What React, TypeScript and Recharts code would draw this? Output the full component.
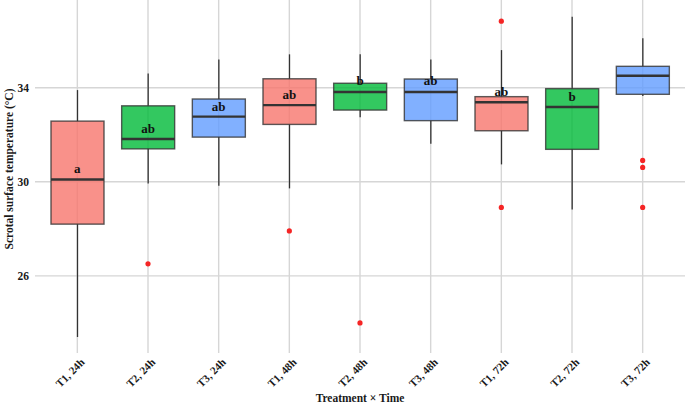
import React from 'react';
import { ComposedChart, Bar, Scatter, XAxis, YAxis, CartesianGrid, Label } from 'recharts';

// Treatment × time groups, in plotting order
const categories = ['T1, 24h', 'T2, 24h', 'T3, 24h', 'T1, 48h', 'T2, 48h', 'T3, 48h', 'T1, 72h', 'T2, 72h', 'T3, 72h'];

// five-number summaries (°C)
const whiskerLow = [23.4, 29.93, 29.83, 29.72, 32.74, 31.62, 30.74, 28.82, 33.65];
const q1 = [28.2, 31.4, 31.9, 32.44, 33.05, 32.6, 32.17, 31.38, 33.72];
const median = [30.1, 31.82, 32.77, 33.26, 33.82, 33.82, 33.38, 33.18, 34.51];
const q3 = [32.58, 33.23, 33.52, 34.38, 34.19, 34.37, 33.62, 33.96, 34.91];
const whiskerHigh = [33.9, 34.61, 35.2, 35.42, 35.42, 35.2, 35.6, 37.02, 36.1];

// points beyond the whiskers
const outliers = [[], [26.51], [], [27.91], [24.0], [], [36.83, 28.91], [], [30.91, 30.61, 28.91]];

// significance letters and the height they sit at
const letters = ['a', 'ab', 'ab', 'ab', 'b', 'ab', 'ab', 'b', ''];
const letterY = [30.58, 32.28, 33.22, 33.73, 34.3, 34.29, 33.83, 33.63, 0];

const yTicks = [26, 30, 34];

const FILL: Record<string, string> = { T1: '#F8766D', T2: '#00BA38', T3: '#619CFF' };
const FONT = '"Liberation Serif", "Times New Roman", serif';

const rows = categories.map((cat, i) => ({
  cat,
  group: cat.split(',')[0],
  lo: whiskerLow[i],
  q1: q1[i],
  med: median[i],
  q3: q3[i],
  hi: whiskerHigh[i],
  range: [whiskerLow[i], whiskerHigh[i]],
}));

const outlierRows = categories.flatMap((cat, i) => outliers[i].map(v => ({ cat, v })));

const letterRows = categories
  .map((cat, i) => ({ cat, v: letterY[i], text: letters[i] }))
  .filter(r => r.text !== '');

// draws a full box-and-whisker glyph inside the whisker-range bar
function BoxShape(props: any) {
  const { x, y, width, height, payload } = props;
  const top = Math.min(y, y + height);
  const h = Math.abs(height);
  const k = h / (payload.hi - payload.lo);
  const py = (v: number) => top + (payload.hi - v) * k;
  const cx = x + width / 2;
  return (
    <g>
      <line x1={cx} x2={cx} y1={py(payload.hi)} y2={py(payload.q3)} stroke="#333" strokeWidth={1.3} />
      <line x1={cx} x2={cx} y1={py(payload.q1)} y2={py(payload.lo)} stroke="#333" strokeWidth={1.3} />
      <rect
        x={x}
        y={py(payload.q3)}
        width={width}
        height={py(payload.q1) - py(payload.q3)}
        fill={FILL[payload.group]}
        fillOpacity={0.8}
        stroke="#333"
        strokeOpacity={0.8}
        strokeWidth={1.4}
      />
      <line x1={x} x2={x + width} y1={py(payload.med)} y2={py(payload.med)} stroke="#333" strokeWidth={2.4} />
    </g>
  );
}

function XTick({ x, y, payload }: any) {
  const tx = x + 8;
  const ty = y + 2;
  return (
    <text
      x={tx}
      y={ty}
      transform={`rotate(-45 ${tx} ${ty})`}
      textAnchor="end"
      fontFamily={FONT}
      fontWeight="bold"
      fontSize={11}
      fill="#1a1a1a"
    >
      {payload.value}
    </text>
  );
}

export default function App() {
  return (
    <div style={{ position: 'absolute', left: 0, top: 0, background: '#fff' }}>
      <ComposedChart width={685} height={405} data={rows} margin={{ top: 0, right: 0, bottom: 0, left: 0 }}>
        <CartesianGrid stroke="#d6d6d6" strokeWidth={1.4} syncWithTicks />
        <XAxis
          dataKey="cat"
          type="category"
          allowDuplicatedCategory={false}
          interval={0}
          height={52}
          padding={{ left: 7, right: 7 }}
          axisLine={false}
          tickLine={false}
          tick={<XTick />}
        >
          <Label
            content={() => (
              <text x={360} y={402} textAnchor="middle" fontFamily={FONT} fontWeight="bold" fontSize={11.5} fill="#1a1a1a">
                Treatment × Time
              </text>
            )}
          />
        </XAxis>
        <YAxis
          type="number"
          domain={[22.72, 37.73]}
          ticks={yTicks}
          width={35}
          axisLine={false}
          tickLine={false}
          tickSize={4}
          tickMargin={2}
          tick={{ fontFamily: FONT, fontWeight: 'bold', fontSize: 11.5, fill: '#1a1a1a' }}
        >
          <Label
            content={() => (
              <text
                transform="translate(9,169) rotate(-90)"
                textAnchor="middle"
                dominantBaseline="central"
                fontFamily={FONT}
                fontWeight="bold"
                fontSize={11.5}
                fill="#1a1a1a"
              >
                Scrotal surface temperature (°C)
              </text>
            )}
          />
        </YAxis>
        <Bar dataKey="range" barSize={53} shape={<BoxShape />} isAnimationActive={false} />
        <Scatter
          data={outlierRows}
          dataKey="v"
          isAnimationActive={false}
          shape={(p: any) => <circle cx={p.cx} cy={p.cy} r={2.6} fill="#f52525" />}
        />
        <Scatter
          data={letterRows}
          dataKey="v"
          isAnimationActive={false}
          shape={(p: any) => (
            <text
              x={p.cx}
              y={p.cy}
              dy="0.35em"
              textAnchor="middle"
              fontFamily={FONT}
              fontWeight="bold"
              fontSize={13}
              fill="#111"
            >
              {p.payload.text}
            </text>
          )}
        />
      </ComposedChart>
    </div>
  );
}
